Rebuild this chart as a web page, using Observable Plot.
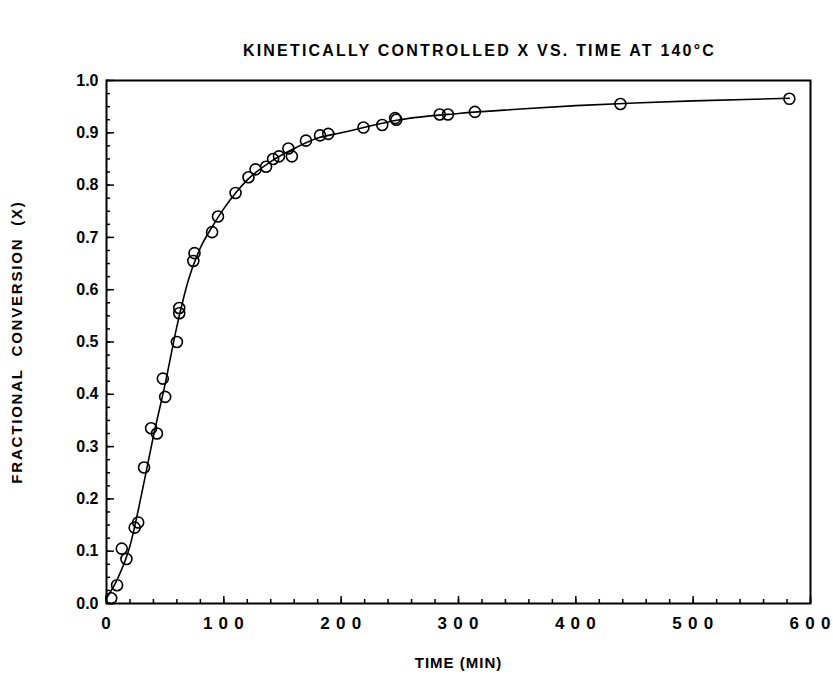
<!DOCTYPE html>
<html>
<head>
<meta charset="utf-8">
<script src="https://cdn.jsdelivr.net/npm/d3@7"></script>
<script src="https://cdn.jsdelivr.net/npm/@observablehq/plot@0.6"></script>
<style>
  html, body { margin: 0; padding: 0; background: #fff; }
  svg text { font-family: "Liberation Sans", Arial, sans-serif; font-weight: bold; }
</style>
</head>
<body>
<div id="chart"></div>
<script>
// Observed data points (time in min, fractional conversion)
const timeMin = [4, 9, 13, 17, 24, 27, 32, 38, 43, 48, 50, 60, 62, 62, 74, 75, 90, 95, 110, 121, 127, 136, 142, 147, 155, 158, 170, 182, 189, 219, 235, 246, 247, 284, 291, 314, 438, 582];
const conversion = [0.01, 0.035, 0.105, 0.085, 0.145, 0.155, 0.26, 0.335, 0.325, 0.43, 0.395, 0.50, 0.555, 0.565, 0.655, 0.67, 0.71, 0.74, 0.785, 0.815, 0.83, 0.835, 0.85, 0.855, 0.87, 0.855, 0.885, 0.895, 0.898, 0.91, 0.915, 0.928, 0.925, 0.935, 0.935, 0.94, 0.955, 0.965];

// Fitted curve
const curveTime = [0, 10, 20, 30, 40, 50, 60, 70, 80, 90, 100, 110, 120, 140, 160, 180, 200, 250, 300, 350, 400, 450, 500, 582];
const curveX = [0.01, 0.05, 0.11, 0.21, 0.32, 0.42, 0.53, 0.62, 0.68, 0.72, 0.755, 0.785, 0.81, 0.845, 0.87, 0.89, 0.90, 0.925, 0.937, 0.945, 0.952, 0.957, 0.961, 0.966];

const xMajor = [0, 100, 200, 300, 400, 500, 600];
const xMinor = d3.range(0, 601, 20);
const yMajor = [0, 0.1, 0.2, 0.3, 0.4, 0.5, 0.6, 0.7, 0.8, 0.9, 1.0];
const yMinor = d3.range(0, 1.0001, 0.025);

const titleText = "KINETICALLY CONTROLLED X VS. TIME AT 140°C";
const xLabel = "TIME (MIN)";
const yLabel = "FRACTIONAL  CONVERSION  (X)";

const points = timeMin.map((t, i) => ({t, x: conversion[i]}));
const curve = curveTime.map((t, i) => ({t, x: curveX[i]}));

const W = 833, H = 676, mT = 80, mB = 73, mL = 106, mR = 23;
const plotW = W - mL - mR, plotH = H - mT - mB;

const chart = Plot.plot({
  width: W,
  height: H,
  marginTop: mT,
  marginBottom: mB,
  marginLeft: mL,
  marginRight: mR,
  style: {background: "#fff", color: "#000"},
  x: {domain: [0, 600]},
  y: {domain: [0, 1]},
  marks: [
    // inward tick marks
    Plot.ruleX(xMinor, {x: d => d, insetTop: plotH - 4, stroke: "#000", strokeWidth: 1.5}),
    Plot.ruleX(xMajor, {x: d => d, insetTop: plotH - 7, stroke: "#000", strokeWidth: 1.5}),
    Plot.ruleY(yMinor, {y: d => d, insetRight: plotW - 4, stroke: "#000", strokeWidth: 1.5}),
    Plot.ruleY(yMajor, {y: d => d, insetRight: plotW - 8, stroke: "#000", strokeWidth: 1.5}),
    Plot.axisX({ticks: xMajor, tickSize: 0, tickPadding: 13, fontSize: 17, label: null,
      tickFormat: d => String(d).split("").join("\u2005")}),
    Plot.axisY({ticks: yMajor, tickSize: 0, tickPadding: 8, fontSize: 16, label: null, tickFormat: d3.format(".1f")}),
    Plot.frame({stroke: "#000", strokeWidth: 2}),
    Plot.line(curve, {x: "t", y: "x", curve: "monotone-x", stroke: "#000", strokeWidth: 1.6}),
    Plot.dot(points, {x: "t", y: "x", r: 5.5, stroke: "#000", strokeWidth: 1.6, fill: "none"}),
    Plot.text([titleText], {frameAnchor: "top", dy: -36, dx: 21, fontSize: 16, text: d => d, className: "ttl"}),
    Plot.text([xLabel], {frameAnchor: "bottom", dy: 64, fontSize: 15, text: d => d, className: "xl"}),
    Plot.text([yLabel], {frameAnchor: "left", textAnchor: "middle", dx: -89, rotate: -90, fontSize: 15, text: d => d, className: "yl"})
  ]
});
document.getElementById("chart").appendChild(chart);
const sv = d3.select(chart);
sv.selectAll("g[aria-label='x-axis tick label'] text").style("letter-spacing", "1px").style("white-space", "pre");
sv.selectAll(".ttl text").style("letter-spacing", "2.2px");
sv.selectAll(".xl text").style("letter-spacing", "1px");
sv.selectAll(".yl text").style("letter-spacing", "1.8px").style("white-space", "pre");
</script>
</body>
</html>
